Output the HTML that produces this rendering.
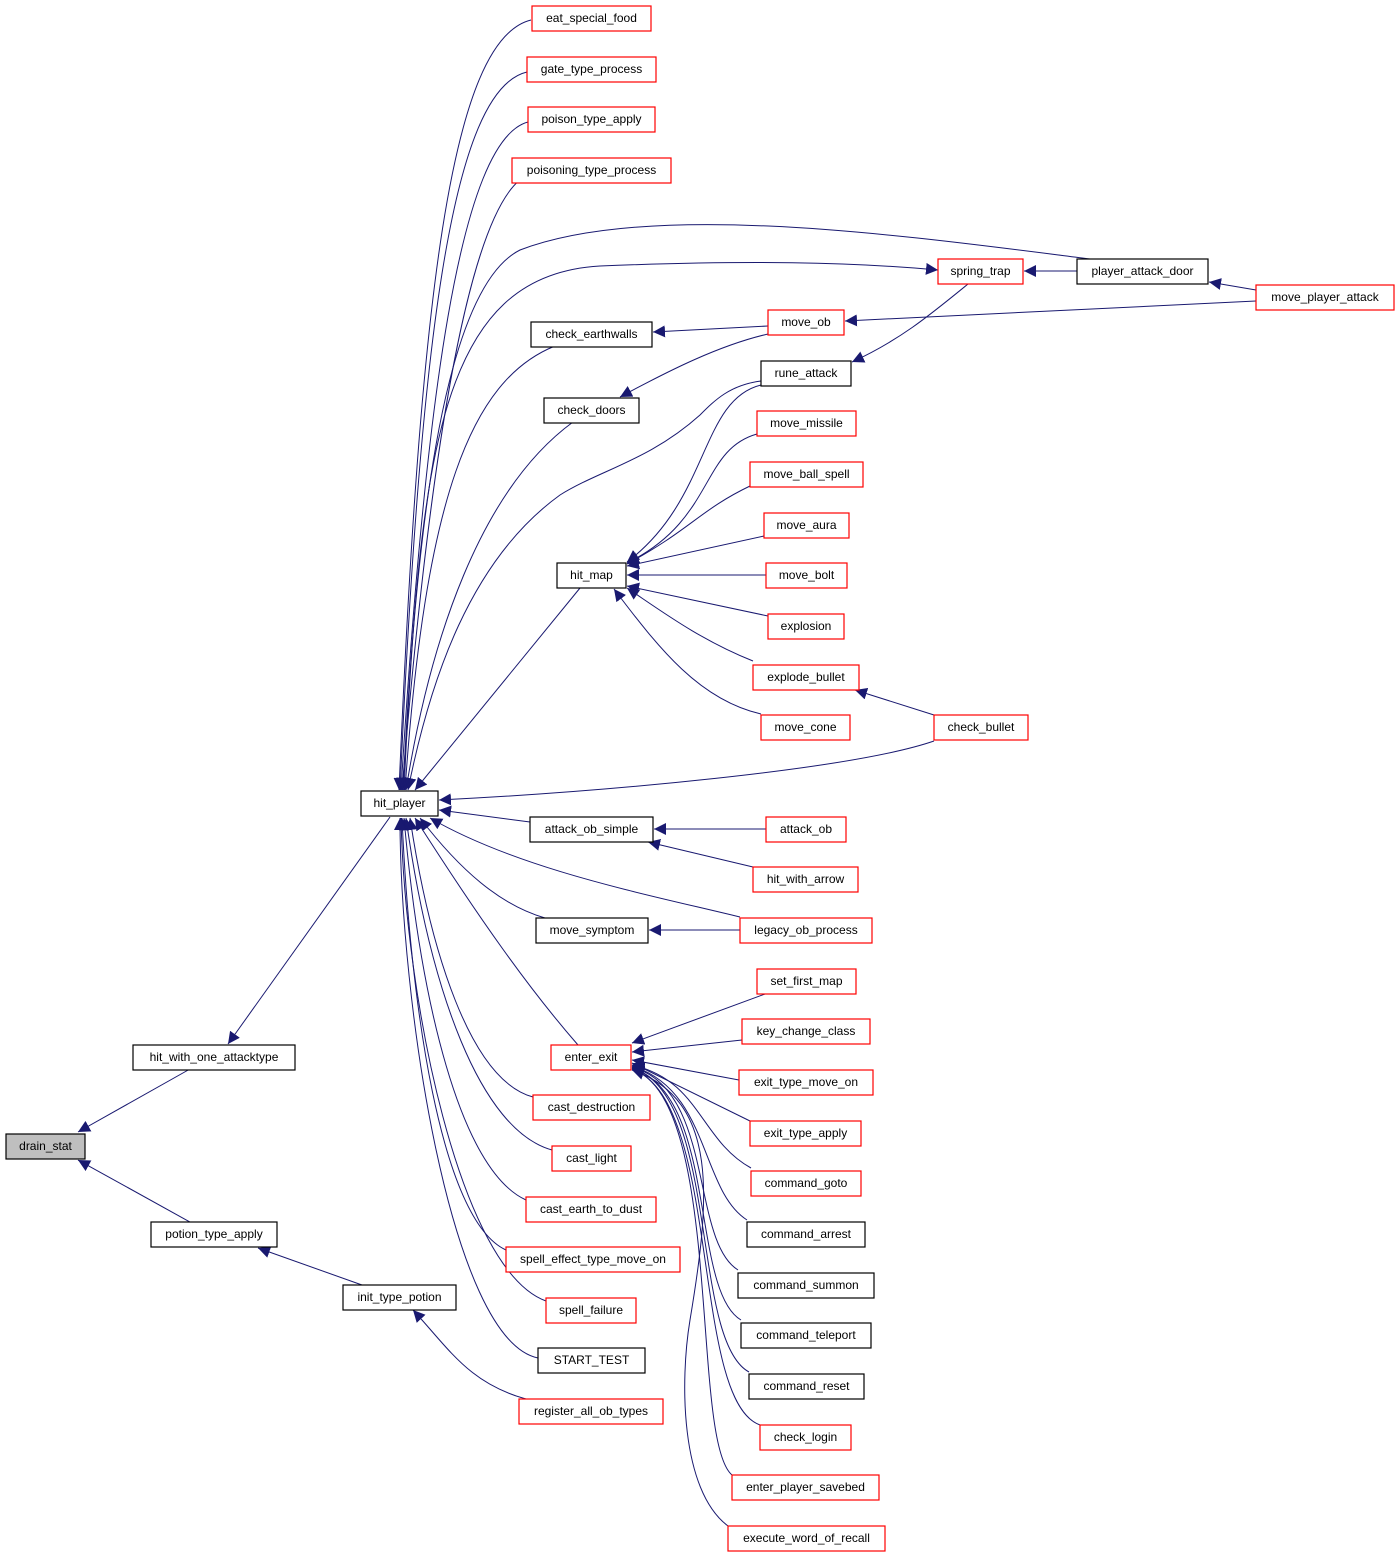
<!DOCTYPE html>
<html><head><meta charset="utf-8"><style>
html,body{margin:0;padding:0;background:#fff;}
svg{display:block;}
text{font-family:"Liberation Sans",Helvetica,Arial,sans-serif;font-size:12px;fill:#000;text-anchor:middle;}
.r{fill:#fff;stroke:#ff0000;stroke-width:1.2;}
.b{fill:#fff;stroke:#000;stroke-width:1.2;}
.e{fill:none;stroke:#191970;stroke-width:1;}
</style></head><body>
<svg width="1400" height="1557" viewBox="0 0 1400 1557" xmlns="http://www.w3.org/2000/svg">
<defs><marker id="a" viewBox="0 0 10 10" refX="10" refY="5" markerWidth="12" markerHeight="12" markerUnits="userSpaceOnUse" orient="auto"><path d="M0,0 L10,5 L0,10 z" fill="#191970"/></marker></defs>
<g class="e" marker-end="url(#a)">
<path d="M190,1069 L78,1132"/>
<path d="M190,1222 L78,1160"/>
<path d="M362,1285 L258,1248"/>
<path d="M530,1400 C470,1385 450,1350 413,1310"/>
<path d="M390,817 L228,1044"/>
<path d="M531,20 C450,40 420,300 399,790"/>
<path d="M527,72 C450,90 420,350 400,790"/>
<path d="M528,122 C460,140 425,400 401,790"/>
<path d="M530,174 C470,195 430,450 402,790"/>
<path d="M1090,259 C900,235 650,200 520,250 C440,290 415,550 403,790"/>
<path d="M404,790 C420,450 440,275 600,266 C750,260 850,262 938,270"/>
<path d="M1077,271 L1024,271"/>
<path d="M1256,290 L1209,282"/>
<path d="M1256,301 L845,321"/>
<path d="M768,326 L653,332"/>
<path d="M768,334 C720,345 670,370 620,397"/>
<path d="M968,284 C930,315 900,340 852,362"/>
<path d="M555,346 C470,380 425,500 405,790"/>
<path d="M573,422 C480,490 430,640 406,790"/>
<path d="M761,381 C730,385 715,400 700,415 C650,460 600,470 560,495 C470,560 430,680 408,790"/>
<path d="M761,385 C700,400 710,500 627,562"/>
<path d="M757,434 C700,450 715,520 627,563"/>
<path d="M750,486 C700,510 690,530 627,564"/>
<path d="M764,536 L627,566"/>
<path d="M766,575 L627,575"/>
<path d="M768,616 L627,586"/>
<path d="M753,661 C700,640 660,610 627,588"/>
<path d="M761,714 C700,700 660,650 614,589"/>
<path d="M934,715 L855,690"/>
<path d="M580,588 L415,790"/>
<path d="M934,741 C850,770 600,792 439,800"/>
<path d="M530,822 L439,810"/>
<path d="M766,829 L654,829"/>
<path d="M753,867 L648,842"/>
<path d="M740,917 C650,895 520,870 430,818"/>
<path d="M740,930 L649,930"/>
<path d="M545,918 C500,905 460,870 420,818"/>
<path d="M578,1045 C530,990 480,920 415,818"/>
<path d="M533,1097 C470,1080 430,950 410,818"/>
<path d="M552,1150 C480,1130 430,990 406,818"/>
<path d="M526,1200 C460,1170 420,1000 404,818"/>
<path d="M506,1250 C440,1220 410,1000 402,818"/>
<path d="M546,1301 C460,1270 405,1000 401,818"/>
<path d="M538,1358 C450,1340 400,1000 400,818"/>
<path d="M765,994 L632,1043"/>
<path d="M742,1040 L632,1052"/>
<path d="M739,1080 L632,1060"/>
<path d="M750,1121 L632,1063"/>
<path d="M751,1168 C700,1140 700,1080 632,1065"/>
<path d="M747,1220 C700,1190 710,1090 632,1066"/>
<path d="M738,1270 C690,1240 715,1090 632,1067"/>
<path d="M741,1320 C690,1290 718,1095 632,1068"/>
<path d="M749,1372 C690,1340 720,1095 632,1068"/>
<path d="M760,1425 C690,1400 722,1100 632,1069"/>
<path d="M732,1475 C690,1440 724,1100 632,1069"/>
<path d="M728,1526 C680,1490 680,1380 690,1320 C710,1200 720,1100 632,1070"/>
</g>
<g>
<rect x="6" y="1134" width="79" height="25" fill="#bfbfbf" stroke="#000" stroke-width="1.2"/><text x="45.5" y="1150">drain_stat</text>
<rect class="b" x="133" y="1045" width="162" height="25"/><text x="214" y="1061">hit_with_one_attacktype</text>
<rect class="b" x="151" y="1222" width="126" height="25"/><text x="214" y="1238">potion_type_apply</text>
<rect class="b" x="343" y="1285" width="113" height="25"/><text x="399.5" y="1301">init_type_potion</text>
<rect class="r" x="519" y="1399" width="144" height="25"/><text x="591" y="1415">register_all_ob_types</text>
<rect class="b" x="361" y="791" width="77" height="25"/><text x="399.5" y="807">hit_player</text>
<rect class="r" x="532" y="6" width="119" height="25"/><text x="591.5" y="22">eat_special_food</text>
<rect class="r" x="527" y="57" width="129" height="25"/><text x="591.5" y="73">gate_type_process</text>
<rect class="r" x="528" y="107" width="127" height="25"/><text x="591.5" y="123">poison_type_apply</text>
<rect class="r" x="512" y="158" width="159" height="25"/><text x="591.5" y="174">poisoning_type_process</text>
<rect class="b" x="531" y="322" width="121" height="25"/><text x="591.5" y="338">check_earthwalls</text>
<rect class="b" x="544" y="398" width="95" height="25"/><text x="591.5" y="414">check_doors</text>
<rect class="b" x="557" y="563" width="69" height="25"/><text x="591.5" y="579">hit_map</text>
<rect class="b" x="530" y="817" width="123" height="25"/><text x="591.5" y="833">attack_ob_simple</text>
<rect class="b" x="536" y="918" width="112" height="25"/><text x="592" y="934">move_symptom</text>
<rect class="r" x="551" y="1045" width="80" height="25"/><text x="591" y="1061">enter_exit</text>
<rect class="r" x="533" y="1095" width="117" height="25"/><text x="591.5" y="1111">cast_destruction</text>
<rect class="r" x="552" y="1146" width="79" height="25"/><text x="591.5" y="1162">cast_light</text>
<rect class="r" x="526" y="1197" width="130" height="25"/><text x="591" y="1213">cast_earth_to_dust</text>
<rect class="r" x="506" y="1247" width="174" height="25"/><text x="593" y="1263">spell_effect_type_move_on</text>
<rect class="r" x="546" y="1298" width="90" height="25"/><text x="591" y="1314">spell_failure</text>
<rect class="b" x="538" y="1348" width="107" height="25"/><text x="591.5" y="1364">START_TEST</text>
<rect class="r" x="938" y="259" width="85" height="25"/><text x="980.5" y="275">spring_trap</text>
<rect class="b" x="1077" y="259" width="131" height="25"/><text x="1142.5" y="275">player_attack_door</text>
<rect class="r" x="1256" y="285" width="138" height="25"/><text x="1325" y="301">move_player_attack</text>
<rect class="r" x="768" y="310" width="76" height="25"/><text x="806" y="326">move_ob</text>
<rect class="b" x="761" y="361" width="90" height="25"/><text x="806" y="377">rune_attack</text>
<rect class="r" x="757" y="411" width="99" height="25"/><text x="806.5" y="427">move_missile</text>
<rect class="r" x="750" y="462" width="113" height="25"/><text x="806.5" y="478">move_ball_spell</text>
<rect class="r" x="764" y="513" width="85" height="25"/><text x="806.5" y="529">move_aura</text>
<rect class="r" x="766" y="563" width="81" height="25"/><text x="806.5" y="579">move_bolt</text>
<rect class="r" x="768" y="614" width="76" height="25"/><text x="806" y="630">explosion</text>
<rect class="r" x="753" y="665" width="106" height="25"/><text x="806" y="681">explode_bullet</text>
<rect class="r" x="761" y="715" width="89" height="25"/><text x="805.5" y="731">move_cone</text>
<rect class="r" x="934" y="715" width="94" height="25"/><text x="981" y="731">check_bullet</text>
<rect class="r" x="766" y="817" width="80" height="25"/><text x="806" y="833">attack_ob</text>
<rect class="r" x="753" y="867" width="105" height="25"/><text x="805.5" y="883">hit_with_arrow</text>
<rect class="r" x="740" y="918" width="132" height="25"/><text x="806" y="934">legacy_ob_process</text>
<rect class="r" x="757" y="969" width="99" height="25"/><text x="806.5" y="985">set_first_map</text>
<rect class="r" x="742" y="1019" width="128" height="25"/><text x="806" y="1035">key_change_class</text>
<rect class="r" x="739" y="1070" width="134" height="25"/><text x="806" y="1086">exit_type_move_on</text>
<rect class="r" x="750" y="1121" width="111" height="25"/><text x="805.5" y="1137">exit_type_apply</text>
<rect class="r" x="751" y="1171" width="110" height="25"/><text x="806" y="1187">command_goto</text>
<rect class="b" x="747" y="1222" width="118" height="25"/><text x="806" y="1238">command_arrest</text>
<rect class="b" x="738" y="1273" width="136" height="25"/><text x="806" y="1289">command_summon</text>
<rect class="b" x="741" y="1323" width="130" height="25"/><text x="806" y="1339">command_teleport</text>
<rect class="b" x="749" y="1374" width="115" height="25"/><text x="806.5" y="1390">command_reset</text>
<rect class="r" x="760" y="1425" width="91" height="25"/><text x="805.5" y="1441">check_login</text>
<rect class="r" x="732" y="1475" width="147" height="25"/><text x="805.5" y="1491">enter_player_savebed</text>
<rect class="r" x="728" y="1526" width="157" height="25"/><text x="806.5" y="1542">execute_word_of_recall</text>
</g>
</svg>
</body></html>
